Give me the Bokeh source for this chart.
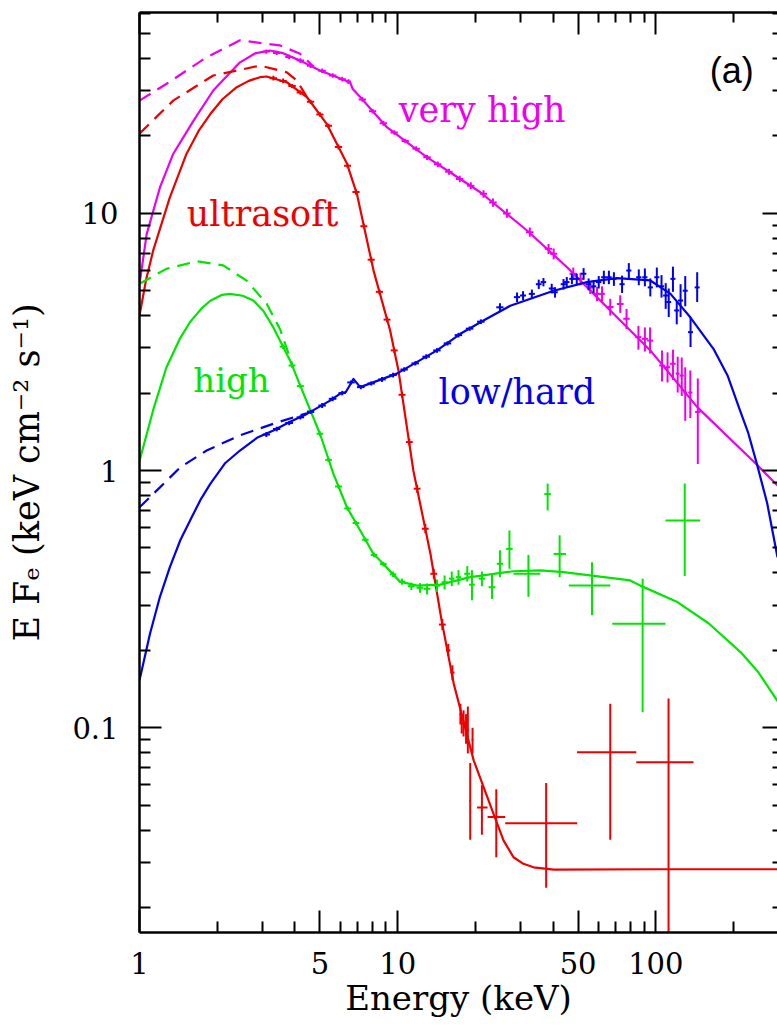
from bokeh.plotting import figure
from bokeh.models import Range1d, FixedTicker, LogAxis, CustomJSTickFormatter, ColumnDataSource
from bokeh.core.properties import value
from bokeh.embed import file_html
from bokeh.resources import INLINE

# ---------------- axes ----------------
x_major_ticks = [1, 5, 10, 50, 100]
x_minor_ticks = [2, 3, 4, 6, 7, 8, 9, 20, 30, 40, 60, 70, 80, 90, 200, 300]
y_major_ticks = [0.1, 1, 10]
y_minor_ticks = [0.02, 0.03, 0.04, 0.05, 0.06, 0.07, 0.08, 0.09,
                 0.2, 0.3, 0.4, 0.5, 0.6, 0.7, 0.8, 0.9,
                 2, 3, 4, 5, 6, 7, 8, 9, 20, 30, 40, 50, 60]
x_title = "Energy (keV)"
y_title = "E F\u2091 (keV cm\u207b\u00b2 s\u207b\u00b9)"

# ---------------- model curves (solid = absorbed, dashed = unabsorbed) ----------------
red_model_E = [1.0, 1.06, 1.13, 1.31, 1.52, 1.7, 1.88, 2.1, 2.38, 2.65, 2.93, 3.11, 3.72, 4.45, 5.32, 6.36, 6.95,
               8.06, 9.35, 10.07, 11.5, 13.4, 14.8, 16.5, 19.7, 23.5, 25.7, 28.1, 30.7, 33.6, 40.2, 100.0, 296.0]
red_model_F = [4.0, 5.5, 7.17, 11.5, 17.0, 21.0, 24.3, 27.8, 30.9, 32.7, 33.8, 34.0, 32.3, 28.3, 22.2, 15.6, 11.9,
               6.0, 3.5, 2.45, 1.0, 0.474, 0.261, 0.148, 0.0747, 0.0464, 0.0365, 0.0314, 0.0296, 0.0287, 0.0281,
               0.0282, 0.0282]
red_dash_E = [1.0, 1.35, 1.93, 2.93, 3.72, 4.07, 4.45]
red_dash_F = [20.4, 27.4, 34.3, 37.5, 35.3, 32.8, 28.3]

mag_model_E = [1.0, 1.066, 1.2, 1.35, 1.62, 1.93, 2.45, 2.8, 3.2, 3.6, 4.19, 5.0, 6.54, 6.7, 7.16, 9.08, 13.0,
               14.6, 20.9, 31.7, 45.3, 57.4, 70.7, 95.2, 145.0, 247.0, 296.0]
mag_model_F = [5.3, 8.3, 12.6, 17.0, 22.9, 30.0, 38.6, 41.8, 42.9, 41.9, 39.2, 35.9, 32.3, 30.4, 28.3, 21.6, 16.5,
               15.3, 12.07, 8.57, 6.17, 4.86, 3.94, 2.93, 1.76, 1.05, 0.875]
mag_dash_E = [1.0, 1.27, 1.82, 2.45, 3.5, 4.19, 4.7]
mag_dash_F = [27.4, 31.8, 40.4, 47.0, 44.9, 41.7, 37.3]

grn_model_E = [1.0, 1.13, 1.27, 1.43, 1.57, 1.74, 1.88, 2.09, 2.24, 2.51, 2.76, 3.02, 3.3, 3.83, 4.45, 5.0, 5.64,
               6.36, 7.16, 8.06, 8.55, 10.2, 11.9, 14.6, 19.1, 28.1, 35.7, 43.9, 79.7, 87.1, 120.0, 160.0, 215.0,
               250.0, 296.0]
grn_model_F = [1.09, 1.72, 2.51, 3.24, 3.78, 4.27, 4.57, 4.82, 4.86, 4.78, 4.58, 4.17, 3.6, 2.68, 1.85, 1.39, 0.97,
               0.72, 0.585, 0.474, 0.447, 0.37, 0.357, 0.36, 0.385, 0.406, 0.409, 0.403, 0.374, 0.357, 0.31, 0.255,
               0.195, 0.164, 0.127]
grn_dash_E = [1.0, 1.27, 1.67, 2.11, 2.6, 3.11, 3.5, 3.9]
grn_dash_F = [5.32, 6.08, 6.51, 6.27, 5.47, 4.45, 3.55, 2.6]

blu_model_E = [1.0, 1.098, 1.2, 1.31, 1.44, 1.57, 1.72, 1.88, 2.15, 2.45, 2.85, 3.3, 3.85, 4.45, 5.47, 5.99, 6.3,
               6.74, 7.16, 9.93, 14.2, 17.5, 21.5, 27.3, 40.2, 54.1, 70.7, 95.2, 114.0, 136.0, 168.0, 190.0, 212.0,
               228.0, 247.0, 270.0, 296.0]
blu_model_F = [0.153, 0.232, 0.323, 0.42, 0.537, 0.64, 0.767, 0.888, 1.07, 1.196, 1.34, 1.43, 1.55, 1.66, 1.87,
               1.99, 2.02, 2.27, 2.11, 2.38, 2.93, 3.4, 3.83, 4.37, 5.0, 5.4, 5.6, 5.48, 4.86, 3.94, 2.95, 2.33,
               1.71, 1.4, 1.05, 0.746, 0.46]
blu_dash_E = [1.0, 1.2, 1.44, 1.82, 2.45, 3.3, 4.19, 4.45]
blu_dash_F = [0.72, 0.86, 1.03, 1.196, 1.37, 1.52, 1.64, 1.67]

# ---------------- data points with error bars ----------------
red_E = [3.3, 3.6, 3.9, 4.2, 4.6, 5.0, 5.4, 5.9, 6.4, 6.9, 7.4, 7.9, 8.5, 9.1, 9.7, 10.4, 11.1, 11.9, 12.8, 13.8,
         14.9, 15.7, 16.3, 17.5, 17.7, 18.0, 18.4, 18.7, 19.1, 19.5, 21.2, 24.1, 37.6, 66.6, 112.0]
red_E_lo = [3.19, 3.48, 3.77, 4.06, 4.45, 4.84, 5.23, 5.71, 6.2, 6.68, 7.17, 7.65, 8.23, 8.82, 9.4, 10.08, 10.76,
            11.54, 12.41, 13.38, 14.45, 15.4, 16.0, 17.35, 17.6, 17.85, 18.25, 18.55, 18.95, 19.35, 20.3, 22.3,
            26.1, 49.5, 84.0]
red_E_hi = [3.41, 3.72, 4.03, 4.34, 4.75, 5.16, 5.57, 6.09, 6.6, 7.12, 7.63, 8.15, 8.77, 9.38, 10.0, 10.72, 11.44,
            12.26, 13.19, 14.22, 15.35, 16.0, 16.6, 17.6, 17.85, 18.15, 18.55, 18.85, 19.25, 19.65, 22.3, 26.1,
            49.6, 84.0, 140.0]
red_F = [33.5, 32.7, 31.2, 29.5, 27.1, 24.2, 21.9, 18.1, 15.3, 12.1, 8.9, 6.6, 4.95, 3.86, 2.93, 1.97, 1.29, 0.85,
         0.594, 0.397, 0.252, 0.2, 0.164, 0.113, 0.104, 0.104, 0.099, 0.098, 0.052, 0.09, 0.049, 0.045, 0.0426,
         0.0803, 0.0734]
red_F_lo = [32.8, 32.0, 30.6, 28.9, 26.6, 23.7, 21.5, 17.7, 15.0, 11.8, 8.7, 6.45, 4.84, 3.77, 2.86, 1.92, 1.25,
            0.82, 0.57, 0.38, 0.24, 0.19, 0.153, 0.103, 0.095, 0.0925, 0.0867, 0.0795, 0.0367, 0.0795, 0.0384,
            0.0314, 0.0239, 0.0367, 0.005]
red_F_hi = [34.2, 33.4, 31.8, 30.1, 27.6, 24.7, 22.3, 18.5, 15.6, 12.4, 9.1, 6.75, 5.06, 3.95, 3.0, 2.02, 1.33,
            0.88, 0.62, 0.415, 0.265, 0.212, 0.175, 0.124, 0.113, 0.117, 0.113, 0.121, 0.073, 0.1, 0.0598, 0.0577,
            0.061, 0.124, 0.130]

mag_E = [3.1, 3.4, 3.8, 4.2, 4.6, 5.1, 5.6, 6.1, 6.45, 7.3, 8.0, 8.8, 9.7, 10.7, 11.8, 13.0, 14.3, 15.8, 17.4,
         19.2, 21.5, 23.4, 26.5, 32.5, 38.4, 40.2, 47.9, 51.1, 55.7, 59.2, 61.9, 66.6, 72.8, 77.0, 85.6, 90.7,
         95.0, 105.7, 111.0, 116.5, 121.5, 126.0, 130.0, 136.0, 145.4]
mag_E_lo = [3.0, 3.29, 3.67, 4.06, 4.45, 4.93, 5.41, 5.9, 6.3, 7.06, 7.74, 8.51, 9.38, 10.35, 11.41, 12.57, 13.83,
            15.28, 16.83, 18.57, 20.8, 22.6, 25.6, 31.4, 37.1, 38.9, 46.3, 49.4, 54.2, 57.6, 60.3, 64.6, 70.6,
            74.8, 83.2, 88.2, 92.5, 103.0, 108.4, 113.6, 119.4, 123.6, 128.0, 133.5, 142.0]
mag_E_hi = [3.2, 3.51, 3.93, 4.34, 4.75, 5.27, 5.79, 6.3, 6.6, 7.54, 8.26, 9.09, 10.02, 11.05, 12.19, 13.43, 14.77,
            16.32, 17.97, 19.83, 22.2, 24.2, 27.4, 33.6, 39.7, 41.5, 49.5, 52.8, 57.2, 60.8, 63.5, 68.6, 75.0,
            79.2, 88.0, 93.2, 97.5, 108.4, 113.6, 119.4, 123.6, 128.4, 132.0, 138.5, 149.0]
mag_F = [42.5, 42.0, 40.5, 39.2, 37.4, 35.8, 34.3, 33.2, 32.5, 27.7, 24.9, 22.4, 20.6, 19.1, 17.8, 16.5, 15.5,
         14.5, 13.6, 12.8, 11.9, 11.0, 9.98, 8.44, 7.28, 6.96, 5.82, 5.56, 5.15, 4.86, 4.86, 4.32, 4.44, 3.89,
         3.3, 3.25, 3.2, 2.56, 2.52, 2.6, 2.38, 2.34, 2.01, 2.01, 1.69]
mag_F_lo = [41.7, 41.2, 39.7, 38.4, 36.7, 35.1, 33.6, 32.5, 31.8, 27.1, 24.4, 21.9, 20.2, 18.7, 17.4, 16.1, 15.1,
            14.1, 13.2, 12.4, 11.5, 10.6, 9.6, 8.1, 6.95, 6.62, 5.5, 5.25, 4.85, 4.55, 4.55, 4.0, 4.1, 3.55, 2.95,
            2.9, 2.85, 2.22, 2.2, 2.25, 2.01, 1.95, 1.56, 1.6, 1.06]
mag_F_hi = [43.3, 42.8, 41.3, 40.0, 38.1, 36.5, 35.0, 33.9, 33.2, 28.3, 25.4, 22.9, 21.0, 19.5, 18.2, 16.9, 15.9,
            14.9, 14.0, 13.2, 12.3, 11.4, 10.4, 8.8, 7.6, 7.3, 6.15, 5.87, 5.45, 5.17, 5.2, 4.65, 4.8, 4.25, 3.65,
            3.6, 3.6, 2.93, 2.88, 2.95, 2.77, 2.75, 2.52, 2.45, 2.28]

grn_E = [3.6, 3.9, 4.2, 4.6, 5.0, 5.4, 5.9, 6.4, 6.9, 7.5, 8.1, 8.8, 9.6, 10.4, 11.3, 12.2, 13.0, 14.2, 15.2, 16.2,
         17.2, 18.6, 19.4, 21.2, 23.2, 24.9, 27.1, 32.1, 38.1, 42.4, 56.6, 88.9, 129.4]
grn_E_lo = [3.49, 3.78, 4.07, 4.46, 4.85, 5.24, 5.72, 6.21, 6.69, 7.28, 7.86, 8.54, 9.31, 10.09, 10.96, 11.83, 12.6,
            13.8, 14.8, 15.8, 16.8, 18.1, 18.9, 20.6, 22.5, 24.2, 26.3, 28.1, 37.0, 40.2, 46.0, 67.8, 109.0]
grn_E_hi = [3.71, 4.02, 4.33, 4.74, 5.15, 5.56, 6.08, 6.59, 7.11, 7.72, 8.34, 9.06, 9.89, 10.71, 11.64, 12.57, 13.4,
            14.6, 15.6, 16.6, 17.6, 19.1, 19.9, 21.8, 23.9, 25.6, 27.9, 35.7, 39.2, 44.9, 66.6, 109.0, 148.6]
grn_F = [3.03, 2.56, 2.13, 1.70, 1.39, 1.1, 0.867, 0.712, 0.625, 0.538, 0.47, 0.433, 0.395, 0.37, 0.355, 0.35,
         0.347, 0.357, 0.368, 0.38, 0.385, 0.397, 0.36, 0.38, 0.352, 0.434, 0.496, 0.397, 0.81, 0.474, 0.357,
         0.254, 0.64]
grn_F_lo = [2.97, 2.51, 2.09, 1.67, 1.36, 1.08, 0.85, 0.698, 0.612, 0.527, 0.46, 0.424, 0.385, 0.36, 0.343, 0.335,
            0.33, 0.337, 0.345, 0.355, 0.36, 0.37, 0.313, 0.355, 0.317, 0.385, 0.415, 0.323, 0.70, 0.385, 0.274,
            0.115, 0.389]
grn_F_hi = [3.09, 2.61, 2.17, 1.73, 1.42, 1.12, 0.884, 0.726, 0.638, 0.549, 0.48, 0.442, 0.405, 0.38, 0.367, 0.365,
            0.364, 0.377, 0.391, 0.405, 0.41, 0.425, 0.41, 0.405, 0.397, 0.49, 0.585, 0.47, 0.89, 0.56, 0.44,
            0.38, 0.89]

blu_E = [3.1, 3.4, 3.8, 4.2, 4.6, 5.1, 5.6, 6.1, 6.6, 7.2, 7.9, 8.7, 9.6, 10.6, 11.7, 12.9, 14.2, 15.6, 17.2, 19.0,
         21.0, 24.9, 29.0, 30.6, 33.1, 35.2, 36.7, 39.5, 40.7, 43.9, 45.2, 47.3, 49.4, 52.5, 54.9, 57.4, 60.1, 62.9,
         65.8, 68.8, 74.0, 78.6, 85.9, 90.7, 95.2, 100.9, 105.2, 109.2, 112.2, 116.5, 120.5, 124.7, 130.0, 136.3,
         144.6]
blu_E_lo = [3.0, 3.29, 3.67, 4.06, 4.45, 4.93, 5.41, 5.9, 6.38, 6.96, 7.64, 8.41, 9.28, 10.25, 11.31, 12.47, 13.73,
            15.08, 16.63, 18.37, 20.3, 24.1, 28.2, 29.8, 32.2, 34.3, 35.8, 38.5, 39.7, 42.8, 44.1, 46.2, 48.2, 51.2,
            53.6, 56.0, 58.7, 61.4, 64.2, 67.2, 72.3, 76.8, 83.9, 88.6, 93.0, 98.6, 102.8, 106.7, 109.7, 113.9,
            117.8, 121.9, 127.1, 133.3, 141.4]
blu_E_hi = [3.2, 3.51, 3.93, 4.34, 4.75, 5.27, 5.79, 6.3, 6.82, 7.44, 8.16, 8.99, 9.92, 10.95, 12.09, 13.33, 14.67,
            16.12, 17.77, 19.63, 21.7, 25.7, 29.8, 31.4, 34.0, 36.1, 37.6, 40.5, 41.7, 45.0, 46.3, 48.4, 50.6, 53.8,
            56.2, 58.8, 61.5, 64.4, 67.4, 70.4, 75.7, 80.4, 87.9, 92.8, 97.4, 103.2, 107.6, 111.7, 114.7, 119.1,
            123.2, 127.5, 132.9, 139.3, 147.8]
blu_F = [1.38, 1.45, 1.53, 1.61, 1.69, 1.79, 1.9, 2.0, 2.2, 2.11, 2.18, 2.26, 2.35, 2.47, 2.61, 2.77, 2.93, 3.12,
         3.36, 3.56, 3.79, 4.31, 4.72, 4.79, 4.86, 5.3, 5.4, 5.1, 4.93, 5.3, 5.4, 5.56, 5.56, 5.82, 5.3, 5.2, 5.4,
         5.64, 5.64, 5.56, 5.3, 5.99, 5.64, 5.64, 5.15, 5.64, 5.2, 4.79, 4.52, 5.56, 4.19, 4.58, 5.0, 3.45, 5.15]
blu_F_lo = [1.35, 1.42, 1.5, 1.58, 1.66, 1.75, 1.86, 1.96, 2.16, 2.07, 2.14, 2.21, 2.3, 2.42, 2.56, 2.71, 2.87, 3.06,
            3.29, 3.49, 3.71, 4.15, 4.52, 4.6, 4.68, 5.08, 5.2, 4.88, 4.7, 5.05, 5.15, 5.3, 5.3, 5.52, 5.02, 4.9,
            5.1, 5.3, 5.3, 5.22, 4.9, 5.6, 5.25, 5.2, 4.75, 5.15, 4.7, 4.25, 3.95, 4.95, 3.7, 3.95, 4.35, 3.02, 4.52]
blu_F_hi = [1.41, 1.48, 1.56, 1.64, 1.72, 1.83, 1.94, 2.04, 2.24, 2.15, 2.22, 2.31, 2.4, 2.52, 2.66, 2.83, 2.99,
            3.18, 3.43, 3.63, 3.87, 4.47, 4.92, 4.98, 5.05, 5.52, 5.6, 5.32, 5.16, 5.55, 5.65, 5.82, 5.82, 6.12,
            5.58, 5.5, 5.7, 5.98, 5.98, 5.9, 5.72, 6.4, 6.05, 6.1, 5.58, 6.15, 5.75, 5.35, 5.1, 6.2, 4.52, 5.3, 5.7,
            3.94, 5.9]

# ---------------- state labels ----------------
state_names = ["very high", "ultrasoft", "high", "low/hard"]
state_colors = ["#ee00ee", "#ee0000", "#00e600", "#0000ee"]
label_E = [10.1, 1.524, 1.616, 14.4]
label_F = [25.1, 9.97, 2.24, 2.015]
label_sizes = ["35px", "35px", "34px", "35px"]
panel_tag = "(a)"
panel_E = [161.6]
panel_F = [35.9]

# ---------------- figure ----------------
p = figure(width=777, height=1028, x_axis_type="log", y_axis_type="log",
           x_range=Range1d(1.0, 296.0), y_range=Range1d(0.01601, 60.3),
           output_backend="svg", toolbar_location=None,
           min_border_left=139, min_border_right=0, min_border_top=12, min_border_bottom=96)
p.outline_line_color = None
p.grid.visible = False
p.background_fill_color = "white"
p.border_fill_color = "white"

label_fmt = CustomJSTickFormatter(code="return String(tick);")
blank_fmt = CustomJSTickFormatter(code="return '';")


def style_axis(ax, maj_len, min_len, show_line=True):
    ax.axis_line_width = 2.5
    ax.axis_line_color = "black" if show_line else None
    ax.major_tick_in = maj_len
    ax.major_tick_out = 0
    ax.minor_tick_in = min_len
    ax.minor_tick_out = 0
    ax.major_tick_line_width = 2
    ax.minor_tick_line_width = 2
    ax.major_tick_line_color = "black"
    ax.minor_tick_line_color = "black"


xa = p.xaxis[0]
xa.ticker = FixedTicker(ticks=x_major_ticks, minor_ticks=x_minor_ticks)
xa.formatter = label_fmt
style_axis(xa, 22, 11)
xa.major_label_text_font = "DejaVu Serif"
xa.major_label_text_font_size = "29px"
xa.major_label_text_color = "black"
xa.major_label_standoff = 19
xa.axis_label = x_title
xa.axis_label_text_font = "DejaVu Serif"
xa.axis_label_text_font_size = "34px"
xa.axis_label_text_font_style = "normal"
xa.axis_label_text_color = "black"
xa.axis_label_standoff = 1

ya = p.yaxis[0]
ya.ticker = FixedTicker(ticks=y_major_ticks, minor_ticks=y_minor_ticks)
ya.formatter = label_fmt
style_axis(ya, 22, 11)
ya.major_label_text_font = "DejaVu Serif"
ya.major_label_text_font_size = "29px"
ya.major_label_text_color = "black"
ya.major_label_standoff = 21
ya.axis_label = y_title
ya.axis_label_text_font = "DejaVu Serif"
ya.axis_label_text_font_size = "35px"
ya.axis_label_text_font_style = "normal"
ya.axis_label_text_color = "black"
ya.axis_label_standoff = 22

top = LogAxis(ticker=FixedTicker(ticks=x_major_ticks, minor_ticks=x_minor_ticks), formatter=blank_fmt,
              major_label_standoff=0, major_label_text_font_size="1px")
style_axis(top, 22, 10)
p.add_layout(top, "above")

right = LogAxis(ticker=FixedTicker(ticks=y_major_ticks, minor_ticks=y_minor_ticks), formatter=blank_fmt,
                major_label_standoff=0, major_label_text_font_size="1px")
style_axis(right, 15, 5, show_line=False)
p.add_layout(right, "right")

states = [
    (mag_model_E, mag_model_F, mag_dash_E, mag_dash_F, mag_E, mag_E_lo, mag_E_hi, mag_F, mag_F_lo, mag_F_hi),
    (red_model_E, red_model_F, red_dash_E, red_dash_F, red_E, red_E_lo, red_E_hi, red_F, red_F_lo, red_F_hi),
    (grn_model_E, grn_model_F, grn_dash_E, grn_dash_F, grn_E, grn_E_lo, grn_E_hi, grn_F, grn_F_lo, grn_F_hi),
    (blu_model_E, blu_model_F, blu_dash_E, blu_dash_F, blu_E, blu_E_lo, blu_E_hi, blu_F, blu_F_lo, blu_F_hi),
]

for (mE, mF, dE, dF, E, Elo, Ehi, F, Flo, Fhi), color in zip(states, state_colors):
    p.line(mE, mF, line_color=color, line_width=2.2, line_join="round")
    p.line(dE, dF, line_color=color, line_width=2.2, line_dash="13 8")
    src = ColumnDataSource(dict(E=E, E_lo=Elo, E_hi=Ehi, F=F, F_lo=Flo, F_hi=Fhi))
    p.segment(x0="E_lo", y0="F", x1="E_hi", y1="F", source=src, line_color=color, line_width=2)
    p.segment(x0="E", y0="F_lo", x1="E", y1="F_hi", source=src, line_color=color, line_width=2)

for name, color, lx, ly, fs in zip(state_names, state_colors, label_E, label_F, label_sizes):
    p.text(x=[lx], y=[ly], text=[name], text_color=color, text_font=value("DejaVu Serif"),
           text_font_size=value(fs), text_baseline="alphabetic", text_align="left")

p.text(x=panel_E, y=panel_F, text=[panel_tag], text_color="black", text_font=value("Liberation Sans"),
       text_font_size=value("36px"), text_baseline="alphabetic", text_align="left")

open("out.html", "w").write(file_html(p, INLINE))
